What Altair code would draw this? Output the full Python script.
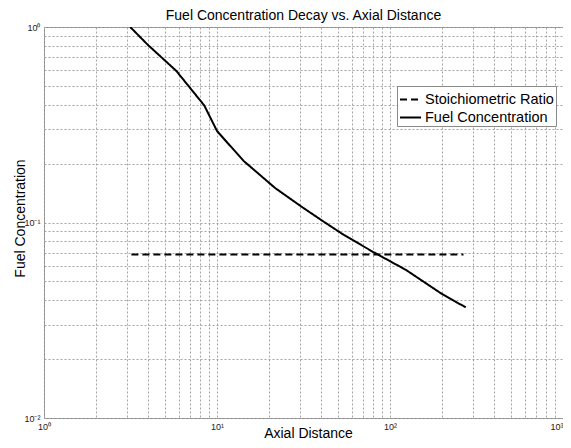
import altair as alt
import pandas as pd

# Data (log-log)
fuel_x = [3.15, 3.99, 5.82, 8.44, 10.0, 11.57, 14.3, 21.7, 30.8, 40.0, 54.2, 80.1, 123.7, 199.6, 274.0]
fuel_y = [1.0, 0.809, 0.596, 0.397, 0.294, 0.254, 0.206, 0.150, 0.1205, 0.103, 0.0863, 0.0706, 0.0572, 0.0431, 0.0368]
stoich_x = [3.2, 266.0]
stoich_y = [0.0685, 0.0685]

series_names = ["Stoichiometric Ratio", "Fuel Concentration"]

x_ticks = [1, 2, 3, 4, 5, 6, 7, 8, 9, 10, 20, 30, 40, 50, 60, 70, 80, 90,
           100, 200, 300, 400, 500, 600, 700, 800, 900, 1000]
y_ticks = [0.01, 0.02, 0.03, 0.04, 0.05, 0.06, 0.07, 0.08, 0.09,
           0.1, 0.2, 0.3, 0.4, 0.5, 0.6, 0.7, 0.8, 0.9, 1]

rows = []
for i, (xv, yv) in enumerate(zip(stoich_x, stoich_y)):
    rows.append({"x": xv, "y": yv, "series": series_names[0], "order": i})
for i, (xv, yv) in enumerate(zip(fuel_x, fuel_y)):
    rows.append({"x": xv, "y": yv, "series": series_names[1], "order": i})
df = pd.DataFrame(rows)

FONT = "Liberation Sans"

x_label = ("datum.value == 1 ? '10⁰' : datum.value == 10 ? '10¹' : "
           "datum.value == 100 ? '10²' : datum.value == 1000 ? '10³' : ''")
y_label = ("datum.value == 1 ? '10⁰' : datum.value == 0.1 ? '10⁻¹' : "
           "datum.value == 0.01 ? '10⁻²' : ''")

W, H = 519, 391
GRID = "#a4a4a4"

chart = alt.Chart(df).mark_line(color="black", strokeWidth=2, clip=True).encode(
    x=alt.X("x:Q",
            scale=alt.Scale(type="log", domain=[1, 1000], nice=False),
            axis=alt.Axis(values=x_ticks, labelExpr=x_label, title="Axial Distance",
                          grid=True, gridDash=[2, 2], gridColor=GRID, gridWidth=1,
                          ticks=False, domain=False, labelOverlap=False, labelFlush=False,
                          labelAlign={"condition": {"test": "datum.value == 1000", "value": "right"},
                                      "value": "center"},
                          labelFontSize=9, labelColor="#222", labelPadding=4, labelFont=FONT,
                          titleFont=FONT, titleFontSize=14, titleFontWeight="normal",
                          titleColor="black", titleX=264, titleY=19,
                          titleBaseline="alphabetic", titleAnchor="middle")),
    y=alt.Y("y:Q",
            scale=alt.Scale(type="log", domain=[0.01, 1], nice=False),
            axis=alt.Axis(values=y_ticks, labelExpr=y_label, title="Fuel Concentration",
                          grid=True, gridDash=[2, 2], gridColor=GRID, gridWidth=1,
                          ticks=False, domain=False, labelOverlap=False, labelFlush=False,
                          labelFontSize=9, labelColor="#222", labelPadding=4, labelFont=FONT,
                          titleFont=FONT, titleFontSize=14, titleFontWeight="normal",
                          titleColor="black", titleX=-24, titleY=191, titleAngle=-90,
                          titleBaseline="middle", titleAlign="center")),
    strokeDash=alt.StrokeDash("series:N",
                              scale=alt.Scale(domain=series_names, range=[[7, 4], [1, 0]]),
                              legend=alt.Legend(title=None, orient="none", legendX=353, legendY=59,
                                                fillColor="white", strokeColor="#8a8a8a",
                                                padding=2, symbolType="stroke", symbolSize=441,
                                                symbolStrokeWidth=2, symbolStrokeColor="black",
                                                labelFont=FONT, labelFontSize=14.5, labelColor="black",
                                                labelOffset=3, rowPadding=-3, labelLimit=300)),
    order="order:Q",
).properties(
    width=W, height=H,
    title=alt.TitleParams("Fuel Concentration Decay vs. Axial Distance", font=FONT, fontSize=14,
                          fontWeight="normal", color="black", anchor="middle", offset=0),
    autosize=alt.AutoSizeParams(type="none"),
    padding={"left": 36, "top": 19, "right": 0, "bottom": 22},
).configure_view(stroke="#8a8a8a", strokeWidth=1)

chart.save("out.html", embed_options={"renderer": "svg", "actions": False})
